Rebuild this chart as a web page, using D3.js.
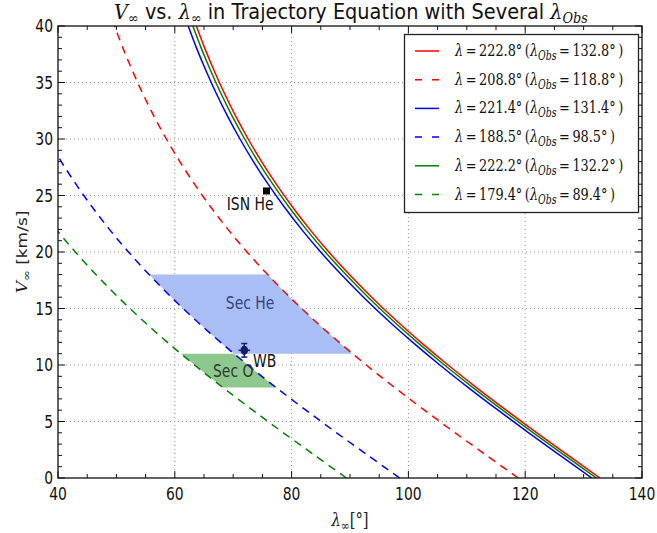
<!DOCTYPE html>
<html>
<head>
<meta charset="utf-8">
<script src="https://cdn.jsdelivr.net/npm/d3@7"></script>
<style>
  body { margin: 0; background: #fff; }
  svg { display: block; }
</style>
</head>
<body>
<div id="chart"></div>
<script>
// V_inf grid (km/s) and lambda_inf (deg)
const vGrid = [0, 2, 4, 6, 8, 10, 12, 14, 16, 18, 20, 22, 24, 26, 28, 30, 32, 34, 36, 38, 40];
const redSolid   = [132.80, 127.37, 122.00, 116.75, 111.66, 106.78, 102.15, 97.78, 93.71, 89.90, 86.37, 83.11, 80.12, 77.38, 74.86, 72.56, 70.45, 68.53, 66.78, 65.16, 63.69];
const redDashed  = [118.80, 113.37, 108.00, 102.75, 97.66, 92.78, 88.15, 83.78, 79.71, 75.90, 72.37, 69.11, 66.12, 63.38, 60.86, 58.56, 56.45, 54.53, 52.78, 51.16, 49.69];
const blueSolid  = [131.40, 125.97, 120.60, 115.35, 110.26, 105.38, 100.75, 96.38, 92.31, 88.50, 84.97, 81.71, 78.72, 75.98, 73.46, 71.16, 69.05, 67.13, 65.38, 63.76, 62.29];
const blueDashed = [98.50, 93.07, 87.70, 82.45, 77.36, 72.48, 67.85, 63.48, 59.41, 55.60, 52.07, 48.81, 45.82, 43.08, 40.56, 38.26, 36.15, 34.23, 32.48, 30.86, 29.39];
const greenSolid = [132.20, 126.77, 121.40, 116.15, 111.06, 106.18, 101.55, 97.18, 93.11, 89.30, 85.77, 82.51, 79.52, 76.78, 74.26, 71.96, 69.85, 67.93, 66.18, 64.56, 63.09];
const greenDashed = [89.40, 83.97, 78.60, 73.35, 68.26, 63.38, 58.75, 54.38, 50.31, 46.50, 42.97, 39.71, 36.72, 33.98, 31.46, 29.16, 27.05, 25.13, 23.38, 21.76, 20.29];

const lamLabels    = ["222.8", "208.8", "221.4", "188.5", "222.2", "179.4"];
const lamObsLabels = ["132.8", "118.8", "131.4", "98.5", "132.2", "89.4"];

// shaded regions [lambda, V]
const secHe = [[55.60, 18], [75.90, 18], [79.71, 16], [83.78, 14], [88.15, 12], [90.44, 11], [70.14, 11], [67.85, 12], [63.48, 14], [59.41, 16]];
const secO  = [[61.04, 11], [70.14, 11], [72.48, 10], [77.36, 8], [68.26, 8], [63.38, 10]];

// measurements
const wbLam = [71.9], wbV = [11.3], wbVErr = [0.6], wbLamErr = [1.0];
const isnLam = [75.7], isnV = [25.4];

// text labels
const noteText = ["Sec He", "Sec O", "WB", "ISN He"];
const noteLam  = [72.9, 70.0, 73.4, 72.9];
const noteV    = [15.5, 9.47, 10.4, 24.3];

const xTicks = [40, 60, 80, 100, 120, 140];
const yTicks = [0, 5, 10, 15, 20, 25, 30, 35, 40];

const W = 657, H = 533;
const SX = 0.82;   // the reference is squeezed horizontally
const sans = "'DejaVu Sans', sans-serif";
const serif = "'DejaVu Serif', serif";

const x = d3.scaleLinear().domain([40, 140]).range([58, 642]);
const y = d3.scaleLinear().domain([0, 40]).range([478, 26]);

const svg = d3.select("#chart").append("svg")
  .attr("width", W)
  .attr("height", H);

svg.append("defs").append("clipPath").attr("id", "plotclip")
  .append("rect")
  .attr("x", x(40)).attr("y", y(40))
  .attr("width", x(140) - x(40)).attr("height", y(0) - y(40));

// grid
const grid = svg.append("g").attr("stroke", "#999").attr("stroke-dasharray", "1,3").attr("stroke-width", 1);
xTicks.slice(1, -1).forEach(t => {
  grid.append("line").attr("x1", x(t)).attr("x2", x(t)).attr("y1", y(0)).attr("y2", y(40));
});
yTicks.slice(1, -1).forEach(t => {
  grid.append("line").attr("x1", x(40)).attr("x2", x(140)).attr("y1", y(t)).attr("y2", y(t));
});

const plot = svg.append("g").attr("clip-path", "url(#plotclip)");

// shaded regions
const poly = d3.line().x(d => x(d[0])).y(d => y(d[1]));
plot.append("path").attr("d", poly(secHe) + "Z").attr("fill", "rgb(170,190,246)");
plot.append("path").attr("d", poly(secO) + "Z").attr("fill", "rgb(143,200,143)");

// curves
const series = [
  { lam: redSolid, color: "#ff0000", dash: null },
  { lam: redDashed, color: "#ff0000", dash: "8,6" },
  { lam: blueSolid, color: "#0000ff", dash: null },
  { lam: blueDashed, color: "#0000ff", dash: "8,6" },
  { lam: greenSolid, color: "#008000", dash: null },
  { lam: greenDashed, color: "#008000", dash: "8,6" }
];
const curve = d3.line().x(d => x(d[0])).y(d => y(d[1])).curve(d3.curveCatmullRom);
series.forEach(s => {
  plot.append("path")
    .attr("d", curve(s.lam.map((l, i) => [l, vGrid[i]])))
    .attr("fill", "none")
    .attr("stroke", s.color)
    .attr("stroke-width", 1.5)
    .attr("stroke-dasharray", s.dash);
});

// ISN He marker
plot.selectAll("rect.isn").data(isnLam).enter().append("rect")
  .attr("class", "isn")
  .attr("x", (d, i) => x(d) - 3.5).attr("y", (d, i) => y(isnV[i]) - 3.5)
  .attr("width", 7).attr("height", 7)
  .attr("fill", "#000");

// WB point with error bars
const wbColor = "#141e6e";
wbLam.forEach((l, i) => {
  const g = plot.append("g").attr("stroke", wbColor).attr("stroke-width", 1.5);
  g.append("line").attr("x1", x(l)).attr("x2", x(l)).attr("y1", y(wbV[i] - wbVErr[i])).attr("y2", y(wbV[i] + wbVErr[i]));
  g.append("line").attr("x1", x(l) - 3).attr("x2", x(l) + 3).attr("y1", y(wbV[i] + wbVErr[i])).attr("y2", y(wbV[i] + wbVErr[i]));
  g.append("line").attr("x1", x(l) - 3).attr("x2", x(l) + 3).attr("y1", y(wbV[i] - wbVErr[i])).attr("y2", y(wbV[i] - wbVErr[i]));
  g.append("line").attr("x1", x(l - wbLamErr[i])).attr("x2", x(l + wbLamErr[i])).attr("y1", y(wbV[i])).attr("y2", y(wbV[i]));
  g.append("ellipse").attr("cx", x(l)).attr("cy", y(wbV[i])).attr("rx", 3.8).attr("ry", 4.6)
    .attr("fill", wbColor).attr("stroke", "none");
});

// annotations
const noteColor = ["#34447c", "#2c3a30", "#111", "#111"];
noteText.forEach((t, i) => {
  svg.append("text")
    .attr("transform", `translate(${x(noteLam[i])},${y(noteV[i])}) scale(${SX},1)`)
    .attr("dy", "0.36em")
    .attr("text-anchor", t === "WB" ? "start" : "middle")
    .attr("font-family", sans).attr("font-size", 17)
    .attr("fill", noteColor[i])
    .text(t);
});

// frame and ticks
const frame = svg.append("g").attr("stroke", "#111").attr("stroke-width", 1);
d3.range(40, 141, 5).forEach(t => {
  const len = xTicks.includes(t) ? 7 : 4;
  frame.append("line").attr("x1", x(t)).attr("x2", x(t)).attr("y1", y(0)).attr("y2", y(0) - len);
  frame.append("line").attr("x1", x(t)).attr("x2", x(t)).attr("y1", y(40)).attr("y2", y(40) + len);
});
d3.range(0, 41, 1).forEach(t => {
  const len = yTicks.includes(t) ? 7 : 4;
  frame.append("line").attr("x1", x(40)).attr("x2", x(40) + len).attr("y1", y(t)).attr("y2", y(t));
  frame.append("line").attr("x1", x(140)).attr("x2", x(140) - len).attr("y1", y(t)).attr("y2", y(t));
});
frame.append("rect")
  .attr("x", x(40)).attr("y", y(40))
  .attr("width", x(140) - x(40)).attr("height", y(0) - y(40))
  .attr("fill", "none").attr("stroke-width", 1.3);

// tick labels
xTicks.forEach(t => {
  svg.append("text")
    .attr("transform", `translate(${x(t)},${y(0) + 22}) scale(${SX},1)`)
    .attr("text-anchor", "middle")
    .attr("font-family", sans).attr("font-size", 17).attr("fill", "#111")
    .text(t);
});
yTicks.forEach(t => {
  svg.append("text")
    .attr("transform", `translate(${x(40) - 5},${y(t)}) scale(${SX},1)`)
    .attr("dy", "0.36em")
    .attr("text-anchor", "end")
    .attr("font-family", sans).attr("font-size", 17).attr("fill", "#111")
    .text(t);
});

// title
const title = svg.append("text")
  .attr("transform", `translate(351,19) scale(0.92,1)`)
  .attr("text-anchor", "middle")
  .attr("font-family", sans).attr("font-size", 21).attr("fill", "#111");
title.append("tspan").attr("font-family", serif).attr("font-style", "italic").text("V");
title.append("tspan").attr("font-family", serif).attr("font-size", 14).attr("dy", 4).text("\u221E");
title.append("tspan").attr("dy", -4).text(" vs. ");
title.append("tspan").attr("font-family", serif).attr("font-style", "italic").text("\u03BB");
title.append("tspan").attr("font-family", serif).attr("font-size", 14).attr("dy", 4).text("\u221E");
title.append("tspan").attr("dy", -4).text(" in Trajectory Equation with Several ");
title.append("tspan").attr("font-family", serif).attr("font-style", "italic").text("\u03BB");
title.append("tspan").attr("font-family", serif).attr("font-style", "italic").attr("font-size", 14).attr("dy", 4).text("Obs");

// axis labels
const xl = svg.append("text")
  .attr("transform", `translate(350,526) scale(${SX},1)`)
  .attr("text-anchor", "middle")
  .attr("font-family", serif).attr("font-size", 18).attr("fill", "#222");
xl.append("tspan").attr("font-style", "italic").text("\u03BB");
xl.append("tspan").attr("font-size", 13).attr("dy", 4).text("\u221E");
xl.append("tspan").attr("dy", -4).text("[\u00B0]");

const yl = svg.append("text")
  .attr("transform", `translate(27,252) rotate(-90) scale(1,${SX})`)
  .attr("text-anchor", "middle")
  .attr("font-family", sans).attr("font-size", 17).attr("fill", "#222");
yl.append("tspan").attr("font-family", serif).attr("font-style", "italic").text("V");
yl.append("tspan").attr("font-family", serif).attr("font-size", 13).attr("dy", 4).text("\u221E");
yl.append("tspan").attr("dy", -4).text(" [km/s]");

// legend
const leg = svg.append("g");
leg.append("rect")
  .attr("x", 404.5).attr("y", 34.5).attr("width", 234).attr("height", 178)
  .attr("fill", "#fff").attr("stroke", "#222").attr("stroke-width", 1.3);
series.forEach((s, i) => {
  const yy = 51 + i * 28.7;
  leg.append("line")
    .attr("x1", 415).attr("x2", 439).attr("y1", yy).attr("y2", yy)
    .attr("stroke", s.color).attr("stroke-width", 1.5)
    .attr("stroke-dasharray", s.dash ? "7,10" : null);
  const t = leg.append("text")
    .attr("transform", `translate(455,${yy + 5}) scale(0.78,1)`)
    .attr("font-family", serif).attr("font-size", 16.5).attr("fill", "#111");
  t.append("tspan").attr("font-style", "italic").text("\u03BB");
  t.append("tspan").text("\u2009=\u2009" + lamLabels[i] + "\u00B0\u2009(");
  t.append("tspan").attr("font-style", "italic").text("\u03BB");
  t.append("tspan").attr("font-style", "italic").attr("font-size", 12).attr("dy", 4).text("Obs");
  t.append("tspan").attr("dy", -4).text("\u2009=\u2009" + lamObsLabels[i] + "\u00B0\u2009)");
});
</script>
</body>
</html>
